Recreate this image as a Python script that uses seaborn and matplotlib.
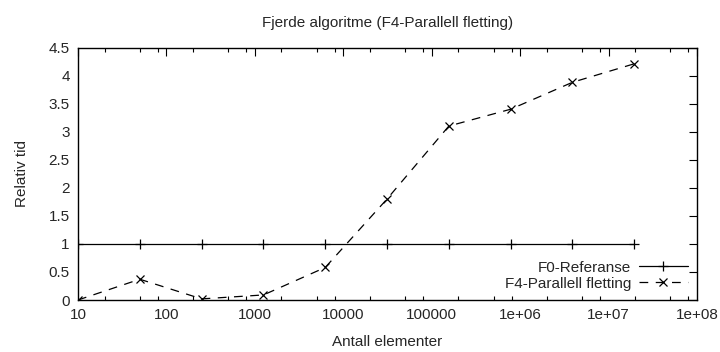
import matplotlib
matplotlib.use("Agg")
import matplotlib.pyplot as plt
import matplotlib.ticker as mticker
import seaborn as sns
import pandas as pd

sns.set_style("white")
plt.rcParams['font.family'] = ['Liberation Sans', 'DejaVu Sans']

n_elements = [10, 50, 250, 1250, 6250, 31250, 156250, 781250, 3906250, 19531250]
f0_referanse = [1, 1, 1, 1, 1, 1, 1, 1, 1, 1]
f4_parallell = [0.0, 0.37, 0.02, 0.09, 0.58, 1.80, 3.10, 3.40, 3.88, 4.21]
x_ticks = [10, 100, 1000, 10000, 100000, 1e6, 1e7, 1e8]
x_tick_labels = ["10", "100", "1000", "10000", "100000", "1e+06", "1e+07", "1e+08"]
y_ticks = [0, 0.5, 1, 1.5, 2, 2.5, 3, 3.5, 4, 4.5]
y_tick_labels = ["0", "0.5", "1", "1.5", "2", "2.5", "3", "3.5", "4", "4.5"]

df = pd.DataFrame({"n": n_elements, "F0": f0_referanse, "F4": f4_parallell})

fig = plt.figure(figsize=(7.2, 3.52), dpi=100)
ax = fig.add_axes([78/720, 1-300/352, (697-78)/720, (300-47.5)/352])

sns.lineplot(data=df, x="n", y="F0", ax=ax, color="black", lw=0.9,
             marker="+", markersize=7, mew=0.9, mec="black", mfc="black",
             label="F0-Referanse")
sns.lineplot(data=df, x="n", y="F4", ax=ax, color="black", lw=0.9,
             linestyle=(0, (7, 6)), marker="x", markersize=6, mew=0.9,
             mec="black", mfc="black", label="F4-Parallell fletting")

ax.set_xscale("log")
ax.set_xlim(10, 1e8)
ax.set_ylim(0, 4.5)
ax.set_xticks(x_ticks)
ax.set_xticklabels(x_tick_labels)
ax.xaxis.set_minor_locator(mticker.LogLocator(base=10, subs=[2, 5, 8]))
ax.xaxis.set_minor_formatter(mticker.NullFormatter())
ax.set_yticks(y_ticks)
ax.set_yticklabels(y_tick_labels)

ax.tick_params(axis="both", which="major", direction="in", length=6, width=0.8,
               top=True, right=True, labelsize=11, color="black", pad=6)
ax.tick_params(axis="x", which="minor", direction="in", length=3, width=0.8,
               top=True, bottom=True, color="black")
for s in ax.spines.values():
    s.set_color("black")
    s.set_linewidth(1.0)

ax.set_xlabel("Antall elementer", fontsize=11, labelpad=9)
ax.set_ylabel("Relativ tid", fontsize=11, labelpad=14)
ax.set_title("Fjerde algoritme (F4-Parallell fletting)", fontsize=11, pad=15)

leg = ax.legend(loc="lower right", frameon=False, fontsize=11, markerfirst=False,
                handlelength=3.2, borderaxespad=0.2, labelspacing=0.15,
                handletextpad=0.5)

fig.savefig("out.png", dpi=100)
